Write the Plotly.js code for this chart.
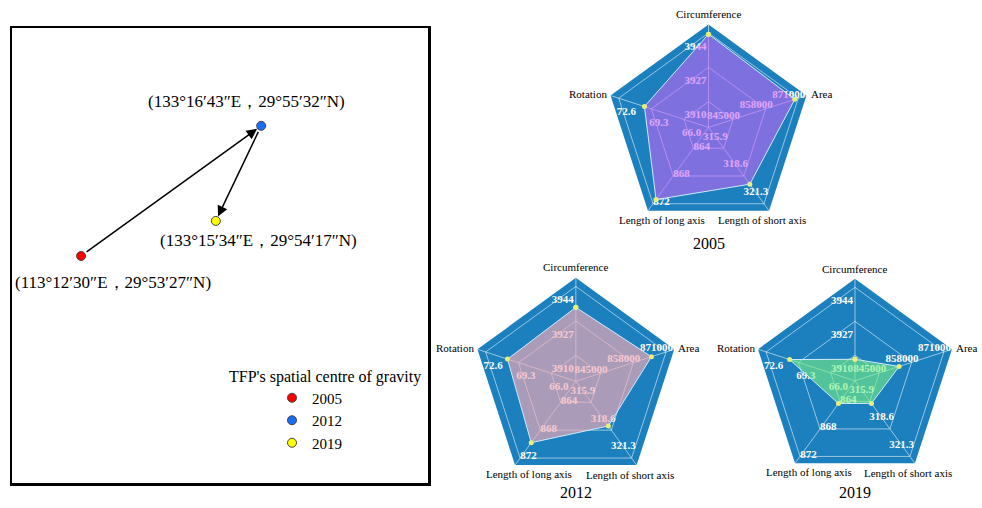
<!DOCTYPE html>
<html><head><meta charset="utf-8">
<script src="https://cdn.plot.ly/plotly-3.0.1.min.js"></script>
<style>html,body{margin:0;padding:0;background:#fff}</style>
</head><body><div id="chart" style="width:982px;height:508px"></div>
<script>
// ---------- radar data ----------
const radarAxes = ['Circumference', 'Area', 'Length of short axis', 'Length of long axis', 'Rotation'];
const radarTickValues = [[3910, 3927, 3944], [845000, 858000, 871000], [315.9, 318.6, 321.3], [864, 868, 872], [66.0, 69.3, 72.6]];
const radarTickLabels = [['3910', '3927', '3944'], ['845000', '858000', '871000'], ['315.9', '318.6', '321.3'], ['864', '868', '872'], ['66.0', '69.3', '72.6']];
const radarYears = ['2005', '2012', '2019'];
const values2005 = [3943.4, 869600, 319.4, 871.4, 70.0];
const values2012 = [3933.7, 865200, 318.2, 869.8, 70.4];
const values2019 = [3908.0, 853000, 316.1, 864.3, 70.2];

// ---------- centre of gravity data ----------
const centreYears = ['2005', '2012', '2019'];
const centreX = [16.6, 59.9, 49.0];
const centreY = [49.9, 78.5, 57.6];
const centreLabels = ['(113°12′30″E，29°53′27″N)', '(133°16′43″E，29°55′32″N)', '(133°15′34″E，29°54′17″N)'];

// ---------- styles ----------
const SERIF = 'Liberation Serif, Times New Roman, serif';
const radarValues = [values2005, values2012, values2019];
const radarDomains = [
  {x: [0.6166, 0.8264], y: [0.5465, 0.952]},
  {x: [0.481, 0.6918], y: [0.0457, 0.4531]},
  {x: [0.7668, 0.9745], y: [0.0496, 0.4512]}
];
const fillColors = ['rgba(200,100,250,0.58)', 'rgba(244,170,182,0.66)', 'rgba(120,240,130,0.6)'];
const labelShift = [[-14, 13], [-8, 6], [-14, 0], [-6, 6], [-11.5, 11]]; // px along / perpendicular
const catLabelPos = [[1.10, 0], [1.14, 73.5], [1.04, 150], [1.006, 206.7], [1.214, 285.5]]; // radius fraction, angle
const centreColors = ['#ff0000', '#1a6ef5', '#ffff00'];
const centreLabelShift = [[32, -27], [-14.5, 24], [42.5, -20]];

function axisRange(i) {
  const t = radarTickValues[i];
  const step = t[1] - t[0];
  return [t[0] - 0.75 * step, t[2] + 0.25 * step];
}
function norm(i, v) {
  const [a, b] = axisRange(i);
  return (v - a) / (b - a);
}
const ringR = radarTickValues[0].map(v => norm(0, v));
const axisAngles = radarAxes.map((_, i) => i * 360 / radarAxes.length);

const data = [];
const layout = {
  width: 982, height: 508, autosize: false,
  margin: {l: 0, r: 0, t: 0, b: 0},
  paper_bgcolor: '#ffffff', plot_bgcolor: '#ffffff',
  showlegend: true,
  font: {family: SERIF, color: '#000'},
  annotations: [],
  xaxis: {domain: [12 / 982, 428 / 982], range: [0, 100], showgrid: false, zeroline: false,
          showticklabels: false, ticks: '', showline: true, mirror: true, linecolor: '#000', linewidth: 2.5},
  yaxis: {domain: [25 / 508, 480 / 508], range: [0, 100], showgrid: false, zeroline: false,
          showticklabels: false, ticks: '', showline: true, mirror: true, linecolor: '#000', linewidth: 2.5},
  legend: {x: 0.277, y: 0.249, xanchor: 'left', yanchor: 'top', bgcolor: 'rgba(0,0,0,0)',
           font: {family: SERIF, size: 15, color: '#000'}, itemwidth: 30}
};

radarYears.forEach((year, k) => {
  const bgName = k === 0 ? 'polar' : 'polar' + (k + 1);
  const fgName = 'polar' + (k + 4);
  const dom = radarDomains[k];
  const R = Math.min((dom.x[1] - dom.x[0]) * 982, (dom.y[1] - dom.y[0]) * 508) / 2;
  const cx = (dom.x[0] + dom.x[1]) / 2, cy = (dom.y[0] + dom.y[1]) / 2;
  layout[bgName] = {
    domain: dom, bgcolor: '#1b80bd', gridshape: 'linear',
    angularaxis: {type: 'category', categoryarray: radarAxes, direction: 'clockwise', rotation: 90,
                  ticks: '', showticklabels: false, showline: false,
                  gridcolor: 'rgba(255,255,255,0.55)', gridwidth: 1},
    radialaxis: {range: [0, 1], tickvals: ringR, showticklabels: false, ticks: '', showline: false,
                 gridcolor: 'rgba(255,255,255,0.55)', gridwidth: 1}
  };
  layout[fgName] = {
    domain: dom, bgcolor: 'rgba(0,0,0,0)',
    angularaxis: {type: 'linear', direction: 'clockwise', rotation: 90, visible: false},
    radialaxis: {range: [0, 1], visible: false}
  };
  const vals = radarValues[k];
  const rr = vals.map((v, i) => norm(i, v));
  // invisible trace to create the background subplot
  data.push({type: 'scatterpolar', subplot: bgName, theta: radarAxes, r: rr,
             mode: 'markers', marker: {size: 1, opacity: 0}, hoverinfo: 'skip', showlegend: false});
  // axis names (outside the radar)
  radarAxes.forEach((name, i) => {
    const a = catLabelPos[i][1] * Math.PI / 180, d = catLabelPos[i][0] * R;
    layout.annotations.push({xref: 'paper', yref: 'paper', x: cx + d * Math.sin(a) / 982, y: cy + d * Math.cos(a) / 508,
                             xanchor: 'center', yanchor: 'middle', text: name, showarrow: false,
                             font: {family: SERIF, size: 11, color: '#000'}});
  });
  // tick labels
  const lr = [], lt = [], ltxt = [];
  radarAxes.forEach((_, i) => {
    radarTickValues[i].forEach((v, j) => {
      const along = norm(i, v) * R + labelShift[i][0];
      const perp = labelShift[i][1];
      lr.push(Math.sqrt(along * along + perp * perp) / R);
      lt.push(axisAngles[i] - Math.atan2(perp, along) * 180 / Math.PI);
      ltxt.push('<b>' + radarTickLabels[i][j] + '</b>');
    });
  });
  data.push({type: 'scatterpolar', subplot: fgName, r: lr, theta: lt, text: ltxt, mode: 'text',
             textposition: 'middle center', textfont: {family: SERIF, size: 11, color: '#ffffff'},
             hoverinfo: 'skip', showlegend: false, cliponaxis: false});
  // data polygon
  data.push({type: 'scatterpolar', subplot: fgName, r: rr.concat([rr[0]]), theta: axisAngles.concat([axisAngles[0]]),
             mode: 'lines+markers', fill: 'toself', fillcolor: fillColors[k],
             line: {color: '#cfeaff', width: 1}, marker: {color: '#e6f07a', size: 5},
             hoverinfo: 'skip', showlegend: false, cliponaxis: false});
  layout.annotations.push({xref: 'paper', yref: 'paper', x: cx,
                           y: k === 0 ? (508 - 243) / 508 : (508 - 492) / 508, xanchor: 'center', yanchor: 'middle',
                           text: year, showarrow: false, font: {family: SERIF, size: 16, color: '#000'}});
});

// centre-of-gravity markers (one trace per year for the legend)
centreYears.forEach((yr, i) => {
  data.push({type: 'scatter', x: [centreX[i]], y: [centreY[i]], mode: 'markers', name: yr,
             marker: {color: centreColors[i], size: 9, line: {color: '#444', width: 1}},
             hoverinfo: 'skip', showlegend: true, cliponaxis: false});
  layout.annotations.push({xref: 'x', yref: 'y', x: centreX[i], y: centreY[i], text: centreLabels[i],
                           showarrow: false, xanchor: 'center', yanchor: 'middle',
                           xshift: centreLabelShift[i][0], yshift: centreLabelShift[i][1],
                           font: {family: SERIF, size: 17, color: '#000'}});
});
// movement arrows
for (let i = 1; i < centreYears.length; i++) {
  layout.annotations.push({xref: 'x', yref: 'y', axref: 'x', ayref: 'y',
                           x: centreX[i], y: centreY[i], ax: centreX[i - 1], ay: centreY[i - 1],
                           text: '', showarrow: true, arrowhead: 2, arrowsize: 1.4, arrowwidth: 1.5,
                           arrowcolor: '#000', standoff: 5, startstandoff: 5});
}
layout.annotations.push({xref: 'paper', yref: 'paper', x: 324.5 / 982, y: (508 - 377) / 508,
                         xanchor: 'center', yanchor: 'middle',
                         text: "TFP's spatial centre of gravity", showarrow: false,
                         font: {family: SERIF, size: 16, color: '#000'}});

Plotly.newPlot('chart', data, layout, {staticPlot: true, displayModeBar: false});
</script></body></html>
